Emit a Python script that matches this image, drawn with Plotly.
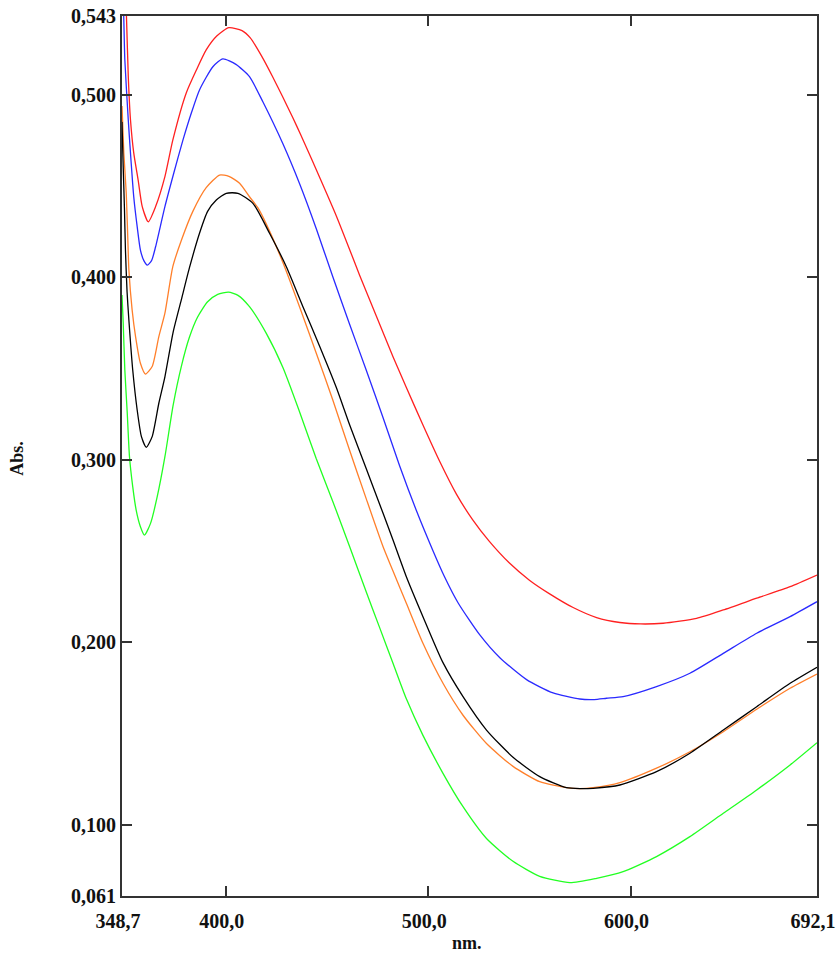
import plotly.graph_objects as go

# ---- data (wavelength nm, absorbance) ----
red_wl = [348.7, 350.0, 350.9, 351.8, 352.9, 354.5, 356.7, 358.7, 361.7, 365.3, 369.9, 373.8, 380.4, 385.5,
          390.3, 395.5, 401.5, 408.0, 412.1, 417.7, 423.0, 428.2, 433.0, 437.0, 447.2, 454.6, 461.2, 466.1,
          474.4, 482.6, 489.2, 497.4, 505.7, 514.0, 522.0, 530.0, 540.0, 550.0, 560.0, 571.6, 583.2, 594.7,
          605.0, 616.1, 632.6, 645.8, 662.3, 678.8, 692.1]
red_abs = [0.600, 0.566, 0.543, 0.510, 0.486, 0.468, 0.453, 0.4386, 0.4303, 0.4386, 0.455, 0.475, 0.5007, 0.5135,
           0.5244, 0.532, 0.5366, 0.5350, 0.5310, 0.5210, 0.510, 0.4985, 0.4875, 0.4780, 0.4525, 0.4335, 0.4150, 0.4010,
           0.3785, 0.3564, 0.3395, 0.3190, 0.2990, 0.2810, 0.2670, 0.2555, 0.2435, 0.2340, 0.2265, 0.2190, 0.2135, 0.2108,
           0.2100, 0.2104, 0.2131, 0.2177, 0.2241, 0.2304, 0.2368]

blue_wl = [348.7, 349.6, 350.1, 351.8, 352.9, 354.5, 356.2, 357.8, 359.5, 361.2, 363.3, 365.3, 369.9, 374.3,
           378.8, 383.0, 387.0, 393.6, 398.5, 405.0, 411.7, 418.3, 428.2, 436.5, 444.7, 452.9, 461.2, 469.4,
           477.7, 485.9, 494.2, 502.4, 508.0, 514.8, 525.5, 535.4, 548.6, 561.7, 574.9, 582.0, 588.1, 596.3,
           612.8, 629.3, 645.8, 662.3, 678.8, 692.1]
blue_abs = [0.575, 0.5408, 0.519, 0.486, 0.4678, 0.444, 0.4276, 0.4148, 0.4090, 0.4066, 0.4090, 0.4166, 0.4386, 0.457,
            0.475, 0.490, 0.5025, 0.5152, 0.5195, 0.5165, 0.5098, 0.4960, 0.4730, 0.4510, 0.4265, 0.4000, 0.3740, 0.3490,
            0.3230, 0.2965, 0.2720, 0.2500, 0.2360, 0.2215, 0.2040, 0.1915, 0.1795, 0.1722, 0.1689, 0.1686, 0.1693, 0.1702,
            0.1757, 0.1830, 0.1939, 0.2049, 0.2140, 0.2222]

orange_wl = [348.7, 349.6, 350.8, 351.8, 352.1, 353.7, 355.4, 357.8, 360.3, 363.6, 366.9, 369.9, 373.8, 378.0,
             383.7, 390.3, 396.9, 401.5, 406.8, 411.7, 415.8, 420.0, 428.2, 436.5, 444.7, 452.9, 461.2, 469.4,
             477.7, 482.6, 489.2, 497.4, 507.3, 517.2, 528.8, 541.9, 555.1, 568.3, 575.0, 581.5, 594.7, 612.8,
             629.3, 645.8, 662.3, 678.8, 692.1]
orange_abs = [0.4937, 0.468, 0.446, 0.413, 0.404, 0.382, 0.3674, 0.3528, 0.3469, 0.351, 0.3674, 0.3802, 0.4057, 0.4200,
              0.4360, 0.4490, 0.4559, 0.4552, 0.4514, 0.4440, 0.4380, 0.4290, 0.4080, 0.3835, 0.3583, 0.3325, 0.3050, 0.2785,
              0.2523, 0.2390, 0.2213, 0.1994, 0.1775, 0.1600, 0.1445, 0.1320, 0.1236, 0.1203, 0.1198, 0.1203, 0.1231, 0.1310,
              0.1400, 0.1510, 0.1633, 0.1748, 0.1826]

black_wl = [348.7, 349.3, 349.9, 350.4, 351.2, 352.1, 354.0, 356.2, 358.3, 360.7, 363.6, 366.9, 369.9, 374.0,
            378.0, 382.0, 387.0, 391.0, 395.3, 400.2, 406.0, 413.4, 421.6, 429.9, 438.1, 446.4, 454.6, 461.2,
            469.4, 477.7, 482.6, 489.2, 497.4, 507.3, 517.2, 528.8, 541.9, 555.1, 568.3, 575.0, 581.5, 594.7,
            612.8, 629.3, 645.8, 662.3, 678.8, 692.1]
black_abs = [0.485, 0.460, 0.438, 0.415, 0.392, 0.3765, 0.3491, 0.3272, 0.3126, 0.3068, 0.3126, 0.3309, 0.3454, 0.370,
             0.3875, 0.405, 0.424, 0.436, 0.4422, 0.4459, 0.4459, 0.4404, 0.4240, 0.4057, 0.3838, 0.3620, 0.3395, 0.3190,
             0.2950, 0.2706, 0.2560, 0.2359, 0.2140, 0.1888, 0.1702, 0.1519, 0.1370, 0.1264, 0.1203, 0.1198, 0.1200, 0.1218,
             0.1291, 0.1392, 0.1519, 0.1647, 0.1775, 0.1863]

green_wl = [348.7, 349.3, 350.1, 351.3, 352.4, 354.0, 355.7, 357.8, 359.8, 362.8, 366.1, 369.9, 374.0, 378.0,
            382.0, 386.0, 391.0, 396.0, 401.3, 406.0, 411.7, 420.0, 428.2, 436.5, 444.7, 452.9, 461.2, 469.4,
            476.0, 482.6, 489.2, 497.4, 507.3, 517.2, 528.8, 541.9, 555.1, 570.0, 583.2, 596.3, 612.8, 629.3,
            645.8, 662.3, 678.8, 692.1]
green_abs = [0.3902, 0.375, 0.3491, 0.3254, 0.3016, 0.2852, 0.2724, 0.2633, 0.2587, 0.2651, 0.2797, 0.3016, 0.330, 0.351,
             0.367, 0.378, 0.3865, 0.3905, 0.3918, 0.3900, 0.3838, 0.3692, 0.3505, 0.3260, 0.3005, 0.2770, 0.2523, 0.2275,
             0.2080, 0.1885, 0.1690, 0.1490, 0.1282, 0.1099, 0.0925, 0.0800, 0.0718, 0.0683, 0.0707, 0.0743, 0.0826, 0.0935,
             0.1063, 0.1191, 0.1328, 0.1450]

x_tickvals = [348.7, 400.0, 500.0, 600.0, 692.1]
x_ticktext = ["348,7", "400,0", "500,0", "600,0", "692,1"]
y_tickvals = [0.061, 0.100, 0.200, 0.300, 0.400, 0.500, 0.543]
y_ticktext = ["0,061", "0,100", "0,200", "0,300", "0,400", "0,500", "0,543"]

series = [
    (green_wl, green_abs, "#22ff22"),
    (orange_wl, orange_abs, "#ff7f2a"),
    (black_wl, black_abs, "#000000"),
    (blue_wl, blue_abs, "#2a2aff"),
    (red_wl, red_abs, "#ff2020"),
]

fig = go.Figure()
for wl, ab, col in series:
    fig.add_trace(go.Scatter(x=wl, y=ab, mode="lines",
                             line=dict(color=col, width=1.3, shape="spline", smoothing=0.6),
                             showlegend=False, hoverinfo="skip"))

font_fam = "Liberation Serif, Times New Roman, serif"
tick_font = dict(family=font_fam, size=20, weight="bold", color="#111111")
fig.update_layout(
    width=836, height=954,
    margin=dict(l=122, r=19, t=16, b=58),
    paper_bgcolor="white", plot_bgcolor="white",
    font=dict(family=font_fam, color="#111111"),
    annotations=[
        dict(text="Abs.", xref="paper", yref="paper", x=-0.151, y=0.497, showarrow=False,
             textangle=-90, font=dict(family=font_fam, size=18, weight="bold", color="#111111"),
             xanchor="center", yanchor="middle"),
        dict(text="nm.", xref="paper", yref="paper", x=0.497, y=-0.0534, showarrow=False,
             font=dict(family=font_fam, size=18, weight="bold", color="#111111"),
             xanchor="center", yanchor="middle"),
    ],
)
fig.update_xaxes(
    range=[348.7, 692.1], tickvals=x_tickvals, ticktext=x_ticktext, automargin=False,
    showline=True, linecolor="#333333", linewidth=2, mirror="ticks",
    ticks="inside", ticklen=10, tickwidth=2, tickcolor="#333333",
    showgrid=False, zeroline=False, tickfont=tick_font, ticklabelstandoff=6,
    ticklabelshift=-4, ticklabeloverflow="allow",
)
fig.update_yaxes(
    range=[0.061, 0.543], tickvals=y_tickvals, ticktext=y_ticktext, automargin=False,
    showline=True, linecolor="#333333", linewidth=2, mirror="ticks",
    ticks="inside", ticklen=10, tickwidth=2, tickcolor="#333333",
    showgrid=False, zeroline=False, tickfont=tick_font, ticklabeloverflow="allow",
)

fig.write_html("out.html", config={"displayModeBar": False},
               post_script="document.body.style.margin='0';document.body.style.overflow='hidden';")
